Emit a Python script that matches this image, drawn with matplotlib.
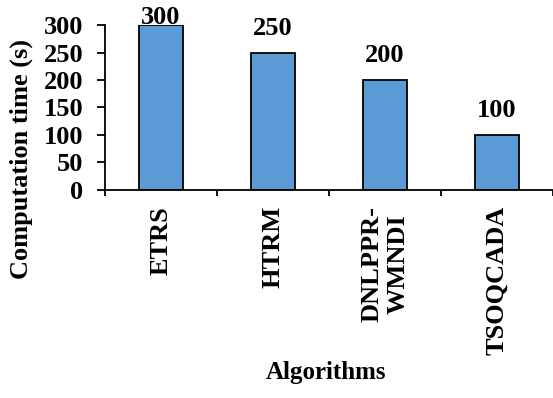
import matplotlib.pyplot as plt
from matplotlib.ticker import FixedLocator

algorithms = ["ETRS", "HTRM", "DNLPPR-\nWMNDI", "TSOQCADA"]
comp_time = [300, 250, 200, 100]
y_ticks = [0, 50, 100, 150, 200, 250, 300]

plt.rcParams["font.family"] = ["Liberation Serif", "DejaVu Serif"]
plt.rcParams["font.weight"] = "bold"

fig = plt.figure(figsize=(5.53, 3.98), dpi=100)
ax = fig.add_axes([0.19, 0.523, 0.81, 0.414])

x = range(len(algorithms))
ax.bar(x, comp_time, width=0.4, color="#5B9BD5", edgecolor="black",
       linewidth=1.3, zorder=2)

for i, v in enumerate(comp_time):
    ax.text(i, min(v + 32, 302), str(v), ha="center", va="baseline",
            fontsize=19, fontweight="bold", clip_on=False)

ax.set_xlim(-0.5, len(algorithms) - 0.5)
ax.set_ylim(0, 300)
ax.set_yticks(y_ticks)
ax.set_yticklabels([str(t) for t in y_ticks], fontsize=19, fontweight="bold")

ax.set_xticks(list(x))
ax.set_xticklabels(algorithms, rotation=90, fontsize=19, fontweight="bold",
                   va="top", ha="center", multialignment="center")
ax.xaxis.set_minor_locator(FixedLocator([i - 0.5 for i in range(len(algorithms) + 1)]))
ax.tick_params(axis="x", which="major", length=0, pad=11.5)
ax.tick_params(axis="x", which="minor", length=4.5, width=1.3, direction="out")
ax.tick_params(axis="y", length=5.5, width=1.3, direction="out", pad=10)

for side in ["top", "right"]:
    ax.spines[side].set_visible(False)
for side in ["left", "bottom"]:
    ax.spines[side].set_linewidth(1.3)

fig.text(0.038, 0.60, "Computation time (s)", rotation=90, ha="center",
         va="center", fontsize=19, fontweight="bold")
fig.text(0.59, 0.063, "Algorithms", ha="center", va="center",
         fontsize=18, fontweight="bold")

fig.savefig("out.png", dpi=100)
